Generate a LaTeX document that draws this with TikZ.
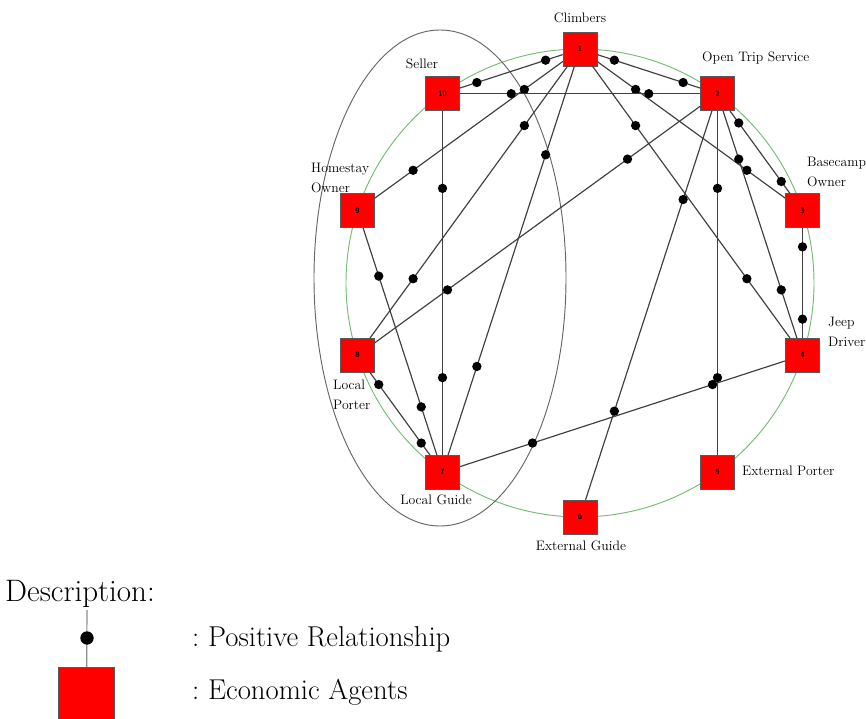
\documentclass[tikz,border=0pt]{standalone}
\usepackage{tikz}
\usetikzlibrary{calc}
\definecolor{ringgreen}{RGB}{118,188,118}
\definecolor{agentred}{RGB}{255,0,0}
\definecolor{linkgray}{RGB}{64,64,64}
\frenchspacing

\begin{document}
\begin{tikzpicture}[
    x=0.3mm, y=-0.3mm,
    agent/.style={draw=black!65, fill=agentred, minimum size=10.2mm, inner sep=0pt, font=\fontsize{6.5}{7}\selectfont\sffamily\bfseries},
    lab/.style={inner sep=0pt, align=left, font=\fontsize{11.7}{17}\selectfont},
    link/.style={linkgray, line width=1pt},
    dot/.style={circle, fill=black, inner sep=0pt, minimum size=2.8mm},
    legend/.style={inner sep=0pt, anchor=west, font=\fontsize{24.5}{29}\selectfont}
]
\useasboundingbox (0,0) rectangle (866,719);
\draw[ringgreen, line width=0.8pt] (580,283) circle [radius=234];
\draw[black!60, line width=0.8pt] (440,278) ellipse [x radius=126, y radius=248];

\node[agent] (n1) at (580,49) {1};
\node[agent] (n2) at (717.5,93.7) {2};
\node[agent] (n3) at (802.5,210.7) {3};
\node[agent] (n4) at (802.5,355.3) {4};
\node[agent] (n5) at (717.5,472.3) {5};
\node[agent] (n6) at (580,517) {6};
\node[agent] (n7) at (442.5,472.3) {7};
\node[agent] (n8) at (357.5,355.3) {8};
\node[agent] (n9) at (357.5,210.7) {9};
\node[agent] (n10) at (442.5,93.7) {10};

\node[lab] (l1) at (580,18) {Climbers};
\node[lab, anchor=west] (l2) at (702,58) {Open Trip Service};
\node[lab, anchor=west] (l3) at (807,172) {Basecamp\\Owner};
\node[lab, anchor=west] (l4) at (828,332) {Jeep\\Driver};
\node[lab, anchor=west] (l5) at (742,471) {External Porter};
\node[lab] (l6) at (581,546) {External Guide};
\node[lab] (l7) at (436,500) {Local Guide};
\node[lab, anchor=west] (l8) at (333,395) {Local\\Porter};
\node[lab, anchor=west] (l9) at (311,178) {Homestay\\Owner};
\node[lab] (l10) at (422,64) {Seller};

\foreach \a/\b in {1/10,1/2,1/3,1/9,1/8,1/7,1/4,10/2,2/8,2/6,2/5,2/4,2/3,3/4,4/7,10/7,9/7,8/7}{
  \draw[link] (n\a) -- (n\b);
  \node[dot] (d\a-\b-a) at ($(n\a)!.25!(n\b)$) {};
  \node[dot] (d\a-\b-b) at ($(n\a)!.75!(n\b)$) {};
}

\node[legend, font=\fontsize{26.5}{30}\selectfont] (desc) at (5,594) {Description:};
\node[agent, minimum size=16.8mm] (lagent) at (86.5,695) {};
\coordinate (ltop) at (87,610);
\draw[link, black!45] (ltop) -- (lagent);
\node[dot, minimum size=4mm] (ldot) at (87,638) {};
\node[legend] (lpos) at (192,639) {: Positive Relationship};
\node[legend] (lagt) at (192,692) {: Economic Agents};
\end{tikzpicture}
\end{document}
